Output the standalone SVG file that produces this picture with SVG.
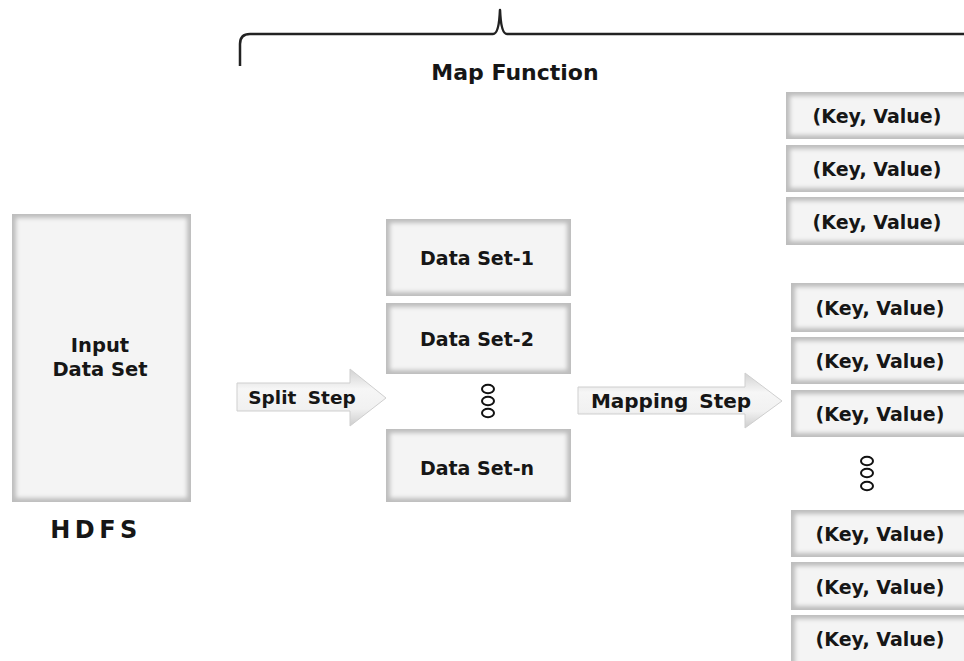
<svg xmlns="http://www.w3.org/2000/svg" width="964" height="661" viewBox="0 0 964 661">
  <defs>
    <style>
      .lbl { font-family: "DejaVu Sans", Verdana, sans-serif; font-weight: bold; fill: #161616; text-anchor: middle; }
      .edge { fill: #bdbdbd; }
      .face { fill: #f4f4f4; filter: url(#soft); }
      .dot { fill: none; stroke: #111; stroke-width: 2; }
      .brace { fill: none; stroke: #222; stroke-width: 2.5; stroke-linejoin: round; }
      .arrow { fill: url(#arrowFill); stroke: #cfcfcf; stroke-width: 1; }
    </style>
    <filter id="soft" x="-10%" y="-10%" width="120%" height="120%">
      <feGaussianBlur stdDeviation="2.2"/>
    </filter>
    <linearGradient id="arrowFill" x1="0" y1="0" x2="0" y2="1">
      <stop offset="0" stop-color="#d2d2d2"/>
      <stop offset="0.35" stop-color="#f6f6f6"/>
      <stop offset="0.7" stop-color="#f1f1f1"/>
      <stop offset="1" stop-color="#cdcdcd"/>
    </linearGradient>
  </defs>

  <rect width="964" height="661" fill="#ffffff"/>

  <!-- curly brace over the map stage -->
  <g id="map-function">
    <path class="brace" d="M240,66 L240,44 Q240,34 250,34 L493,34 Q499,34 500,10 Q501,34 507,34 L966,34"/>
    <text class="lbl" x="515" y="80" font-size="22">Map Function</text>
  </g>

  <!-- HDFS input -->
  <g id="input-data-set">
    <rect class="edge" x="12" y="214" width="179" height="288"/>
    <rect class="face" x="16" y="218" width="171" height="280"/>
    <text class="lbl" x="100" y="352" font-size="19.5">Input</text>
    <text class="lbl" x="100" y="376" font-size="19.5">Data Set</text>
  </g>
  <g id="hdfs">
    <text class="lbl" x="96" y="538" font-size="24" letter-spacing="4.5">HDFS</text>
  </g>

  <!-- step arrows -->
  <g id="connectors">
    <g id="split-step">
      <path class="arrow" d="M237,383 L350,383 L350,369 L386,398 L350,426 L350,411 L237,411 Z"/>
      <text class="lbl" x="302" y="404" font-size="18.5" word-spacing="5">Split Step</text>
    </g>
    <g id="mapping-step">
      <path class="arrow" d="M578,387 L745,387 L745,373 L782,401 L745,428 L745,414 L578,414 Z"/>
      <text class="lbl" x="671" y="408" font-size="20" word-spacing="4">Mapping Step</text>
    </g>
  </g>

  <!-- split data sets -->
  <g id="data-set-1">
    <rect class="edge" x="386" y="219" width="185" height="77"/>
    <rect class="face" x="390" y="223" width="177" height="69"/>
    <text class="lbl" x="477" y="265" font-size="19">Data Set-1</text>
  </g>
  <g id="data-set-2">
    <rect class="edge" x="386" y="303" width="185" height="71"/>
    <rect class="face" x="390" y="307" width="177" height="63"/>
    <text class="lbl" x="477" y="346" font-size="19">Data Set-2</text>
  </g>
  <g id="data-set-dots">
    <ellipse class="dot" cx="488" cy="389" rx="6" ry="4.3"/>
    <ellipse class="dot" cx="488" cy="401" rx="6" ry="4.3"/>
    <ellipse class="dot" cx="488" cy="413" rx="6" ry="4.3"/>
  </g>
  <g id="data-set-n">
    <rect class="edge" x="386" y="429" width="185" height="73"/>
    <rect class="face" x="390" y="433" width="177" height="65"/>
    <text class="lbl" x="477" y="475" font-size="19">Data Set-n</text>
  </g>

  <!-- key/value pairs, first group -->
  <g id="kv-1">
    <rect class="edge" x="786" y="92" width="182" height="47"/>
    <rect class="face" x="790" y="96" width="178" height="39"/>
    <text class="lbl" x="877" y="123" font-size="19">(Key, Value)</text>
  </g>
  <g id="kv-2">
    <rect class="edge" x="786" y="145" width="182" height="47"/>
    <rect class="face" x="790" y="149" width="178" height="39"/>
    <text class="lbl" x="877" y="176" font-size="19">(Key, Value)</text>
  </g>
  <g id="kv-3">
    <rect class="edge" x="786" y="197" width="182" height="48"/>
    <rect class="face" x="790" y="201" width="178" height="40"/>
    <text class="lbl" x="877" y="229" font-size="19">(Key, Value)</text>
  </g>

  <!-- key/value pairs, second group -->
  <g id="kv-4">
    <rect class="edge" x="791" y="283" width="177" height="49"/>
    <rect class="face" x="795" y="287" width="173" height="41"/>
    <text class="lbl" x="880" y="315" font-size="19">(Key, Value)</text>
  </g>
  <g id="kv-5">
    <rect class="edge" x="791" y="337" width="177" height="47"/>
    <rect class="face" x="795" y="341" width="173" height="39"/>
    <text class="lbl" x="880" y="368" font-size="19">(Key, Value)</text>
  </g>
  <g id="kv-6">
    <rect class="edge" x="791" y="390" width="177" height="47"/>
    <rect class="face" x="795" y="394" width="173" height="39"/>
    <text class="lbl" x="880" y="421" font-size="19">(Key, Value)</text>
  </g>
  <g id="kv-dots">
    <ellipse class="dot" cx="867" cy="461" rx="6" ry="4.3"/>
    <ellipse class="dot" cx="867" cy="473" rx="6" ry="4.3"/>
    <ellipse class="dot" cx="867" cy="486" rx="6" ry="4.3"/>
  </g>
  <g id="kv-7">
    <rect class="edge" x="791" y="510" width="177" height="47"/>
    <rect class="face" x="795" y="514" width="173" height="39"/>
    <text class="lbl" x="880" y="541" font-size="19">(Key, Value)</text>
  </g>
  <g id="kv-8">
    <rect class="edge" x="791" y="562" width="177" height="48"/>
    <rect class="face" x="795" y="566" width="173" height="40"/>
    <text class="lbl" x="880" y="594" font-size="19">(Key, Value)</text>
  </g>
  <g id="kv-9">
    <rect class="edge" x="791" y="615" width="177" height="50"/>
    <rect class="face" x="795" y="619" width="173" height="46"/>
    <text class="lbl" x="880" y="646" font-size="19">(Key, Value)</text>
  </g>
</svg>
